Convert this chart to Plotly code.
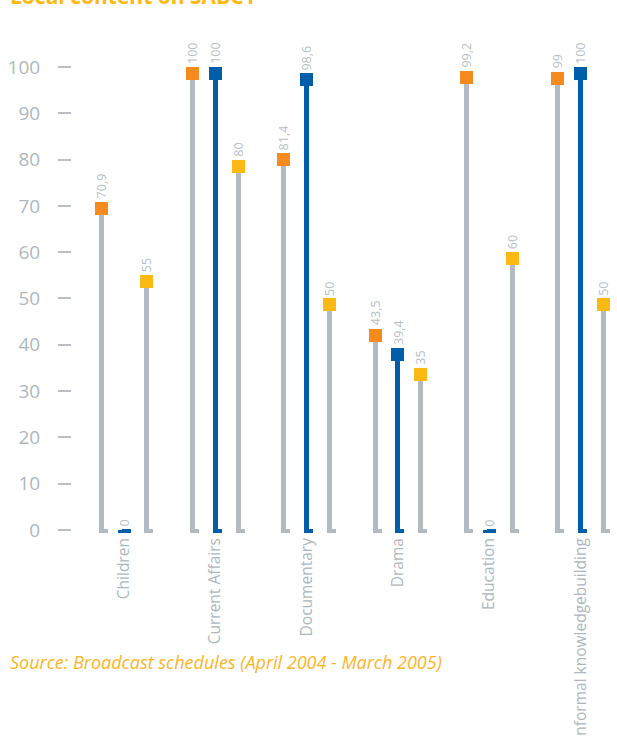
import plotly.graph_objects as go

# ---- data -------------------------------------------------------------
categories = ["Children", "Current Affairs", "Documentary", "Drama",
              "Education", "Informal knowledgebuilding"]
sabc1 = [70.9, 100, 81.4, 43.5, 99.2, 99]
sabc2 = [0, 100, 98.6, 39.4, 0, 100]
sabc3 = [55, 80, 50, 35, 60, 50]
y_ticks = [0, 10, 20, 30, 40, 50, 60, 70, 80, 90, 100]

# ---- style ------------------------------------------------------------
ORANGE = "#F58A1F"
BLUE = "#005DAA"
YELLOW = "#FDB913"
STEM_GRAY = "#B3BAC0"
TEXT_GRAY = "#AFB7BD"
FONT = "Open Sans, Noto Sans, sans-serif"

# layout geometry (pixels) and axis ranges
W, H = 617, 736
M_L, M_R, M_T, M_B = 72, 0, 35, 200
PLOT_W = W - M_L - M_R
PLOT_H = H - M_T - M_B
Y_MIN, Y_MAX = -1.30, 106.91
X_MIN = -0.5695
PX_PER_X = 91.3
X_MAX = X_MIN + PLOT_W / PX_PER_X
PX_PER_Y = PLOT_H / (Y_MAX - Y_MIN)

BASE = -0.65                   # stem bottom, just below zero
OFFSET = 0.25                  # spacing of the three stems in a group
STEM_W = 5 / PX_PER_X
MARK_W = 13 / PX_PER_X
MARK_H = 13 / PX_PER_Y
FOOT_W = 9 / PX_PER_X
FOOT_SHIFT = 2 / PX_PER_X
FOOT_H = 4 / PX_PER_Y

series = [
    ("SABC 1", sabc1, -OFFSET, ORANGE, STEM_GRAY),
    ("SABC 2", sabc2, 0.0, BLUE, BLUE),
    ("SABC 3", sabc3, OFFSET, YELLOW, STEM_GRAY),
]

fig = go.Figure()
annotations = []

for name, vals, off, mcol, scol in series:
    xs = [i + off for i in range(len(categories))]
    # vertical stem
    fig.add_trace(go.Bar(
        x=xs, y=[v - BASE for v in vals], base=[BASE] * len(vals),
        width=STEM_W, marker=dict(color=scol, line=dict(width=0)),
        name=name, showlegend=False, hoverinfo="skip"))
    # small foot at the bottom of each stem
    fig.add_trace(go.Bar(
        x=[x + FOOT_SHIFT for x in xs], y=[FOOT_H] * len(vals),
        base=[BASE] * len(vals), width=FOOT_W,
        marker=dict(color=scol, line=dict(width=0)),
        showlegend=False, hoverinfo="skip"))
    # square head hanging from the value
    fig.add_trace(go.Bar(
        x=xs, y=[-min(MARK_H, v - BASE) for v in vals], base=vals,
        width=MARK_W, marker=dict(color=mcol, line=dict(width=0)),
        name=name, showlegend=False,
        hovertemplate="%{x}: %{base}<extra>" + name + "</extra>"))
    # rotated value labels
    for x, v in zip(xs, vals):
        annotations.append(dict(
            x=x, y=v, xref="x", yref="y",
            text=f"{v:g}".replace(".", ","),
            textangle=-90, showarrow=False,
            xanchor="center", yanchor="bottom", yshift=1,
            font=dict(family=FONT, size=12.5, color="#B9C0C6")))

# heading (runs off the top edge) and source note
annotations.append(dict(
    xref="paper", yref="paper",
    x=(8 - M_L) / PLOT_W, y=(H - M_B - 12) / PLOT_H,
    xanchor="left", yanchor="bottom", showarrow=False,
    text="<b>Local content on SABC1</b>",
    font=dict(family=FONT, size=21, color=YELLOW)))
annotations.append(dict(
    xref="paper", yref="paper",
    x=(8 - M_L) / PLOT_W, y=(H - M_B - 662) / PLOT_H,
    xanchor="left", yanchor="middle", showarrow=False,
    text="<i>Source: Broadcast schedules (April 2004 - March 2005)</i>",
    font=dict(family=FONT, size=18, color="#F9B52A")))

fig.update_layout(
    width=W, height=H,
    margin=dict(l=M_L, r=M_R, t=M_T, b=M_B, pad=0, autoexpand=False),
    paper_bgcolor="white", plot_bgcolor="white",
    barmode="overlay", bargap=0,
    showlegend=False,
    annotations=annotations,
    xaxis=dict(
        range=[X_MIN, X_MAX],
        automargin=False,
        tickmode="array",
        tickvals=list(range(len(categories))),
        ticktext=categories,
        tickangle=-90,
        ticks="", showgrid=False, zeroline=False, showline=False,
        ticklabelstandoff=-2,
        tickfont=dict(family=FONT, size=15.5, color=TEXT_GRAY),
    ),
    yaxis=dict(
        range=[Y_MIN, Y_MAX],
        automargin=False,
        tickmode="array", tickvals=y_ticks,
        ticks="outside", ticklen=13, tickwidth=1.5, tickcolor="#B8BFC5",
        showgrid=False, zeroline=False, showline=False,
        ticklabelstandoff=14,
        tickfont=dict(family=FONT, size=19, color=TEXT_GRAY),
    ),
)

fig.write_html("out.html")
